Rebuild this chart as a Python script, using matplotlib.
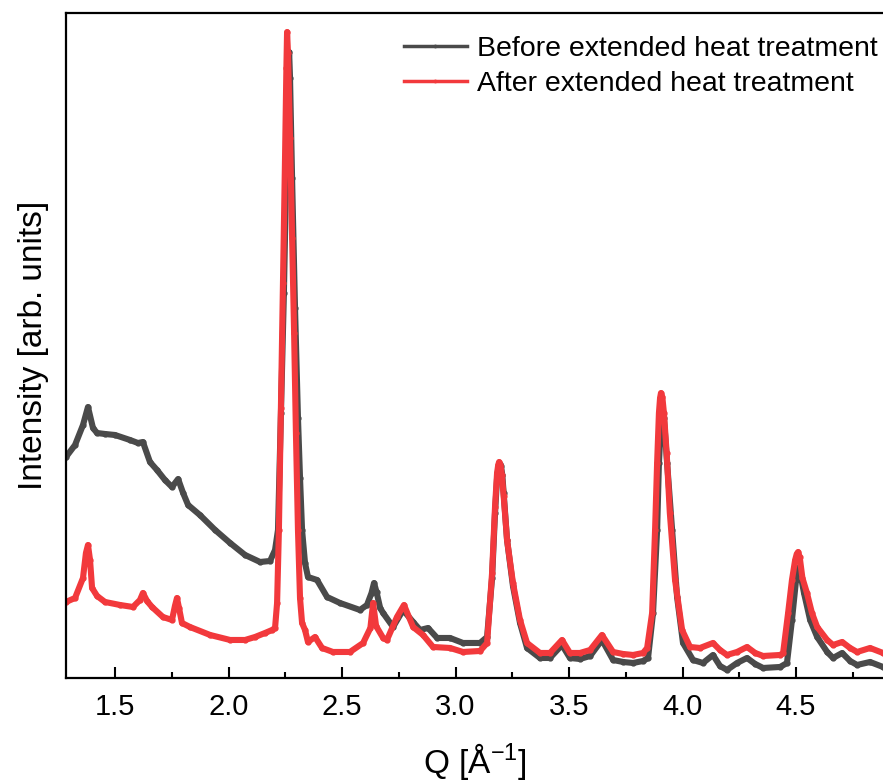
import numpy as np
import matplotlib
matplotlib.use('Agg')
import matplotlib.pyplot as plt
from matplotlib.ticker import MultipleLocator

plt.rcParams['font.family'] = ['Liberation Sans', 'DejaVu Sans']
plt.rcParams['mathtext.fontset'] = 'custom'
plt.rcParams['mathtext.rm'] = 'Liberation Sans'
plt.rcParams['mathtext.it'] = 'Liberation Sans'

# Q in 1/A, intensity in arbitrary units
q_before = [1.284, 1.324, 1.359, 1.381, 1.403, 1.421, 1.456, 1.500, 1.566, 1.601,
            1.623, 1.654, 1.685, 1.720, 1.751, 1.778, 1.800, 1.822, 1.874, 1.941,
            2.007, 2.073, 2.139, 2.183, 2.205, 2.218, 2.231, 2.244, 2.253, 2.262,
            2.267, 2.271, 2.280, 2.293, 2.306, 2.315, 2.324, 2.337, 2.350, 2.390,
            2.434, 2.491, 2.579, 2.610, 2.630, 2.641, 2.652, 2.668, 2.681, 2.725,
            2.769, 2.813, 2.844, 2.879, 2.919, 2.976, 3.033, 3.108, 3.139, 3.161,
            3.174, 3.183, 3.188, 3.194, 3.200, 3.206, 3.212, 3.227, 3.253, 3.284,
            3.315, 3.372, 3.416, 3.469, 3.504, 3.548, 3.593, 3.645, 3.694, 3.738,
            3.782, 3.826, 3.848, 3.870, 3.888, 3.896, 3.905, 3.912, 3.918, 3.932,
            3.954, 3.976, 4.002, 4.046, 4.090, 4.134, 4.165, 4.196, 4.240, 4.284,
            4.320, 4.355, 4.430, 4.460, 4.482, 4.500, 4.508, 4.516, 4.535, 4.562,
            4.593, 4.637, 4.663, 4.703, 4.738, 4.769, 4.826, 4.883]
i_before = [221, 233, 253, 271, 250, 245, 244, 243, 238, 235,
            236, 216, 208, 198, 191, 199, 185, 173, 163, 148,
            135, 123, 116, 117, 128, 148, 265, 385, 490, 590,
            626, 600, 500, 370, 260, 200, 148, 115, 101, 98,
            81, 75, 68, 73, 85, 95, 86, 70, 65, 51,
            68, 56, 48, 50, 40, 40, 35, 35, 41, 100,
            165, 200, 209, 214, 212, 203, 185, 138, 92, 55,
            30, 20, 20, 33, 20, 19, 22, 38, 18, 16,
            15, 17, 20, 65, 148, 215, 255, 266, 260, 215,
            148, 81, 35, 18, 15, 23, 12, 8, 15, 20,
            14, 10, 11, 15, 58, 98, 110, 108, 85, 58,
            41, 26, 20, 25, 17, 13, 16, 11]

q_after = [1.284, 1.324, 1.359, 1.372, 1.381, 1.390, 1.399, 1.421, 1.456, 1.522,
           1.579, 1.610, 1.623, 1.641, 1.663, 1.711, 1.751, 1.764, 1.773, 1.782,
           1.795, 1.830, 1.919, 2.007, 2.073, 2.117, 2.161, 2.192, 2.205, 2.214,
           2.222, 2.231, 2.240, 2.249, 2.255, 2.258, 2.262, 2.271, 2.280, 2.289,
           2.297, 2.306, 2.315, 2.324, 2.337, 2.350, 2.381, 2.412, 2.460, 2.535,
           2.593, 2.625, 2.637, 2.650, 2.681, 2.698, 2.742, 2.773, 2.813, 2.857,
           2.901, 2.976, 3.033, 3.108, 3.139, 3.161, 3.174, 3.183, 3.188, 3.192,
           3.198, 3.204, 3.212, 3.227, 3.253, 3.284, 3.315, 3.372, 3.416, 3.469,
           3.504, 3.548, 3.593, 3.645, 3.694, 3.738, 3.782, 3.826, 3.844, 3.866,
           3.879, 3.888, 3.896, 3.901, 3.905, 3.911, 3.918, 3.930, 3.944, 3.967,
           3.998, 4.033, 4.077, 4.134, 4.165, 4.196, 4.240, 4.284, 4.320, 4.355,
           4.430, 4.443, 4.465, 4.482, 4.496, 4.503, 4.509, 4.516, 4.528, 4.548,
           4.570, 4.593, 4.637, 4.663, 4.703, 4.738, 4.769, 4.826, 4.883]
i_after = [76, 80, 100, 125, 133, 118, 90, 82, 76, 73,
           71, 78, 85, 77, 71, 61, 58, 72, 80, 70,
           55, 51, 43, 38, 38, 41, 45, 48, 50, 75,
           148, 270, 395, 520, 610, 646, 625, 540, 440, 345,
           245, 148, 80, 55, 48, 36, 41, 30, 26, 26,
           35, 50, 75, 52, 40, 38, 61, 73, 51, 43,
           31, 30, 26, 27, 35, 105, 171, 205, 213, 216,
           213, 203, 182, 138, 95, 58, 35, 25, 25, 38,
           25, 25, 28, 43, 26, 24, 23, 25, 30, 65,
           148, 215, 265, 280, 285, 281, 265, 225, 165, 98,
           48, 31, 30, 35, 28, 23, 26, 31, 25, 22,
           23, 25, 65, 98, 118, 124, 126, 121, 100, 85,
           65, 51, 38, 33, 36, 30, 26, 30, 25]

fig = plt.figure(figsize=(8.83, 7.80), dpi=100)
ax = fig.add_axes([0.0747, 0.1308, 0.9253, 0.8525])

ax.plot(q_before, i_before, '-o', color='#4a4a4a', lw=4.4, ms=3.5,
        label='Before extended heat treatment')
ax.plot(q_after, i_after, '-o', color='#f2393c', lw=4.4, ms=3.5,
        label='After extended heat treatment')

ax.set_xlim(1.284, 4.883)
ax.set_ylim(0, 665)
ax.xaxis.set_major_locator(MultipleLocator(0.5))
ax.xaxis.set_minor_locator(MultipleLocator(0.25))
ax.xaxis.set_major_formatter(plt.FormatStrFormatter('%.1f'))
ax.set_yticks([])
ax.tick_params(axis='x', which='major', direction='in', length=8, width=1.5,
               labelsize=21, pad=11)
ax.tick_params(axis='x', which='minor', direction='in', length=4.5, width=1.5)
for s in ax.spines.values():
    s.set_linewidth(1.6)
ax.spines['right'].set_visible(False)

ax.set_xlabel('Q [Å$^{-1}$]', fontsize=24, labelpad=14)
ax.set_ylabel('Intensity [arb. units]', fontsize=24, labelpad=12)

leg = ax.legend(loc='upper left', bbox_to_anchor=(0.4, 0.982), frameon=False,
                fontsize=20.5, handlelength=2.2, handletextpad=0.35,
                labelspacing=0.3, borderaxespad=0, markerscale=0.5)
for h in leg.legend_handles:
    h.set_linewidth(2.5)

plt.savefig('out.png', dpi=100)
